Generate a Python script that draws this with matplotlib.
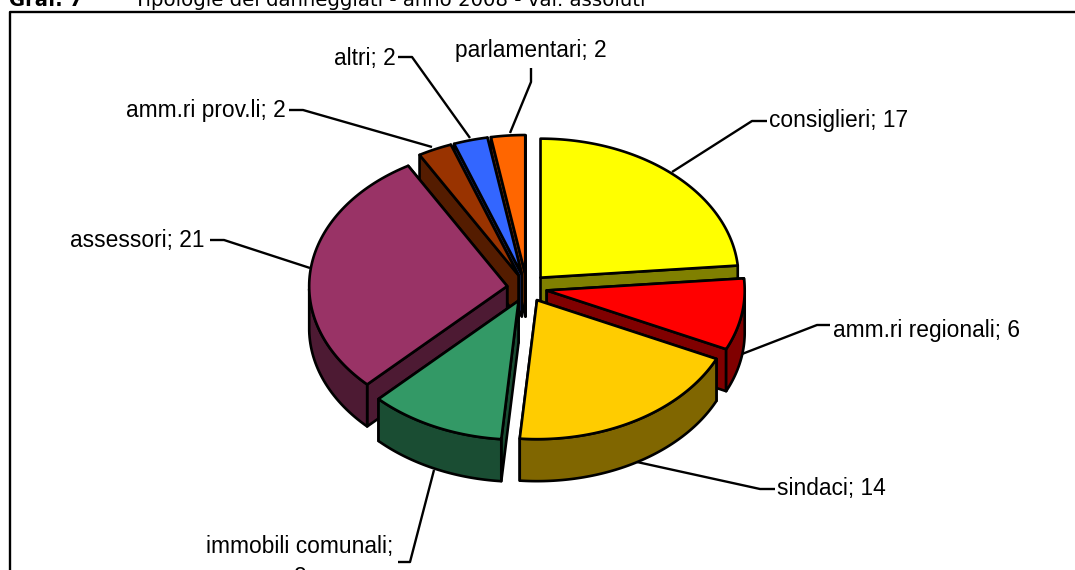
import numpy as np
import matplotlib
matplotlib.use('Agg')
import matplotlib.pyplot as plt
from matplotlib.patches import Polygon

plt.rcParams['font.family'] = ['Liberation Sans', 'DejaVu Sans']

categories = ['consiglieri', 'amm.ri regionali', 'sindaci', 'immobili comunali',
              'assessori', 'amm.ri prov.li', 'altri', 'parlamentari']
values = [17, 6, 14, 8, 21, 2, 2, 2]
top_colors = ['#FFFF00', '#FF0000', '#FFCC00', '#339966',
              '#993366', '#993300', '#3366FF', '#FF6600']
side_colors = ['#808000', '#800000', '#806600', '#1A4D33',
               '#4D1A33', '#541C00', '#1A3380', '#803300']

# pie geometry, in pixels
cx, cy = 527, 288
rx, ry = 198, 139
explode = 20
depth = 42
lw = 1.9

fig = plt.figure(figsize=(10.75, 5.70), dpi=100)
ax = fig.add_axes([0, 0, 1, 1])
ax.set_xlim(0, 1075)
ax.set_ylim(570, 0)
ax.axis('off')

# frame runs off the page on the right and at the bottom
ax.plot([1080, 9.5, 9.5], [11.5, 11.5, 580], color='black', lw=1.7, zorder=0)


def rim(ox, oy, t):
    return np.column_stack([ox + rx * np.sin(t), oy - ry * np.cos(t)])


def draw_slice(start, stop, top, side):
    mid = (start + stop) / 2
    ox = cx + explode * np.sin(mid)
    oy = cy - explode * ry / rx * np.cos(mid)
    apex = np.array([ox, oy])
    drop = np.array([0, depth])
    t = np.linspace(start, stop, 80)
    edge = rim(ox, oy, t)

    # radial walls, the one further back first
    walls = sorted([edge[0], edge[-1]], key=lambda p: p[1])
    for p in walls:
        ax.add_patch(Polygon([apex, p, p + drop, apex + drop], fc=side, ec='black',
                             lw=lw, joinstyle='round', zorder=2))
    # outer wall only shows on the front half
    front = t[(t >= np.pi / 2) & (t <= 3 * np.pi / 2)]
    if len(front) > 1:
        e = rim(ox, oy, front)
        ax.add_patch(Polygon(np.vstack([e, (e + drop)[::-1]]), fc=side, ec='black',
                             lw=lw, joinstyle='round', zorder=2))
    ax.add_patch(Polygon(np.vstack([apex, edge]), fc=top, ec='black', lw=lw,
                         joinstyle='round', zorder=2))


fractions = np.array(values) / sum(values)
stops = np.cumsum(fractions) * 2 * np.pi
starts = stops - fractions * 2 * np.pi
mids = (starts + stops) / 2
for i in np.argsort(-np.cos(mids)):
    draw_slice(starts[i], stops[i], top_colors[i], side_colors[i])

# leader lines and label anchors, one per category
leaders = [
    [(672, 172), (752, 121), (767, 121)],
    [(742, 354), (817, 325), (830, 325)],
    [(637, 462), (760, 489), (775, 489)],
    [(434, 470), (410, 562), (398, 562)],
    [(310, 268), (224, 240), (210, 240)],
    [(432, 147), (303, 110), (289, 110)],
    [(470, 138), (412, 57), (398, 57)],
    [(510, 133), (531, 82), (531, 68)],
]
for pts in leaders:
    xs, ys = zip(*pts)
    ax.plot(xs, ys, color='black', lw=1.7, zorder=1, solid_capstyle='butt')

fs = 16.4
anchors = [(769, 121, 'left'), (833, 330, 'left'), (777, 489, 'left'), None,
           (204, 241, 'right'), (286, 111, 'right'), (396, 58, 'right'), None]
for name, val, a in zip(categories, values, anchors):
    if a is not None:
        ax.text(a[0], a[1], f'{name}; {val}', ha=a[2], va='center', fontsize=fs, color='black')
ax.text(531, 50, f'{categories[7]}; {values[7]}', ha='center', va='center', fontsize=fs)
ax.text(300, 547, f'{categories[3]};', ha='center', va='center', fontsize=fs)
ax.text(300, 577, f'{values[3]}', ha='center', va='center', fontsize=fs)

# header, cut by the top of the page
ax.text(9, 6, 'Graf. 7', fontsize=14, fontweight='bold', family='DejaVu Sans', ha='left', va='baseline')
ax.text(134, 6, 'Tipologie dei danneggiati - anno 2008 - val. assoluti', fontsize=14.2,
        family='DejaVu Sans', ha='left', va='baseline')

fig.savefig('out.png', dpi=100)
